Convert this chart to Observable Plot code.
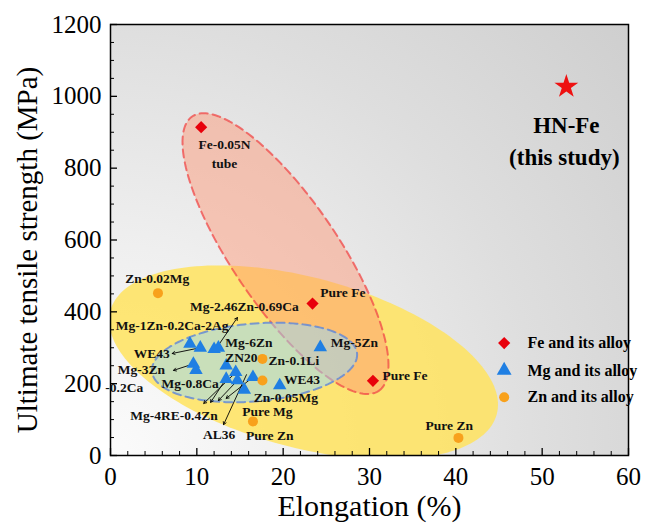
<!DOCTYPE html>
<html>
<head>
<meta charset="utf-8">
<script src="https://cdn.jsdelivr.net/npm/d3@7"></script>
<script src="https://cdn.jsdelivr.net/npm/@observablehq/plot@0.6"></script>
<style>
  html, body { margin: 0; padding: 0; background: white; }
</style>
</head>
<body>
<div id="chart"></div>
<script>
// ---------- data ----------
const feNames = ["Fe-0.05N tube", "Pure Fe", "Pure Fe"];
const feElong = [10.5, 23.4, 30.4];
const feUTS = [914, 423, 208];

const mgElong = [9.2, 10.4, 12.0, 12.5, 9.6, 9.9, 13.4, 14.5, 13.4, 14.7, 16.5, 15.5, 19.6, 24.3];
const mgUTS = [311, 300, 296, 300, 255, 238, 250, 232, 213, 209, 218, 183, 195, 301];

const znElong = [5.5, 17.6, 17.6, 16.5, 40.3];
const znUTS = [452, 269, 209, 95, 49];

const studyName = "HN-Fe";
const studyNote = "(this study)";
const studyElong = [52.8];
const studyUTS = [1027];

const xMajor = [0, 10, 20, 30, 40, 50, 60];
const xMinor = d3.range(0, 61, 2).filter(v => v % 10 !== 0);
const yMajor = [0, 200, 400, 600, 800, 1000, 1200];
const yMinor = d3.range(0, 1201, 50).filter(v => v % 200 !== 0);

// annotation labels (data units)
const labelText = ["Fe-0.05N\ntube", "Pure Fe", "Pure Fe", "Mg-5Zn", "Pure Zn", "Zn-0.02Mg",
  "Mg-2.46Zn-0.69Ca", "Mg-1Zn-0.2Ca-2Ag", "WE43", "Mg-3Zn", "-0.2Ca", "Mg-0.8Ca",
  "Mg-4RE-0.4Zn", "AL36", "Pure Zn", "Pure Mg", "Zn-0.05Mg", "WE43", "Zn-0.1Li", "ZN20", "Mg-6Zn"];
const labelX = [13.2, 24.3, 31.5, 25.5, 36.5, 1.7, 9.2, 0.6, 2.7, 0.85, -0.6, 5.9, 2.3, 10.7, 15.7, 15.25, 16.6, 20.1, 18.3, 13.3, 13.3];
const labelY = [845, 454, 223, 313, 84, 492, 415, 362, 283, 239, 189, 200, 111, 58, 56, 121, 160, 211, 265, 272, 315];
const labelAnchor = ["middle", "start", "start", "start", "start", "start", "start", "start", "start", "start", "start", "start",
  "start", "start", "start", "start", "start", "start", "start", "start", "start"];

// arrows (data units)
const arrowX1 = [10.4, 9.6, 12.3, 14.5, 13.4, 14.7, 16.5, 15.75];
const arrowY1 = [300, 255, 300, 231, 214, 209, 218, 225];
const arrowX2 = [7.15, 7.3, 14.7, 10.8, 11.6, 12.5, 13.4, 13.1];
const arrowY2 = [284, 237, 384, 145, 148, 153, 159, 86];

// ellipses (center + two conjugate semi-axis vectors, data units)
const ellipseNames = ["Zn", "Fe", "Mg"];
const ellipseCx = [22.36, 20.27, 16.68];
const ellipseCy = [259, 562, 259];
const ellipseAx = [22.38, 10.8, 11.88];
const ellipseAy = [-144.2, -382, 25.1];
const ellipseBx = [-2.55, 5.07, 0.39];
const ellipseBy = [-228.6, 83, -108];

// legend
const legendNames = ["Fe and its alloy", "Mg and its alloy", "Zn and its alloy"];
const legendX = 45.6;
const legendTextX = 48.3;
const legendY = [313, 237, 162];

// ---------- build ----------
const fe = feNames.map((n, i) => ({name: n, x: feElong[i], y: feUTS[i]}));
const mg = mgElong.map((v, i) => ({x: v, y: mgUTS[i]}));
const zn = znElong.map((v, i) => ({x: v, y: znUTS[i]}));
const study = studyElong.map((v, i) => ({x: v, y: studyUTS[i]}));
const labels = labelText.map((t, i) => ({text: t, x: labelX[i], y: labelY[i], anchor: labelAnchor[i]}));
const arrows = arrowX1.map((v, i) => ({x1: v, y1: arrowY1[i], x2: arrowX2[i], y2: arrowY2[i]}));
const legend = legendNames.map((n, i) => ({name: n, x: legendX, tx: legendTextX, y: legendY[i]}));

function ellipse(i, n = 180) {
  return d3.range(n).map(k => {
    const t = 2 * Math.PI * k / n;
    return {
      x: ellipseCx[i] + ellipseAx[i] * Math.cos(t) + ellipseBx[i] * Math.sin(t),
      y: ellipseCy[i] + ellipseAy[i] * Math.cos(t) + ellipseBy[i] * Math.sin(t)
    };
  });
}
const ellZn = ellipse(0), ellFe = ellipse(1), ellMg = ellipse(2);

const serif = "'Liberation Serif', 'Times New Roman', serif";

const background = (index, scales) => {
  const x0 = scales.x(0), x1 = scales.x(60), yT = scales.y(1200), yB = scales.y(0);
  const g = d3.create("svg:g");
  const grad = g.append("defs").append("radialGradient")
    .attr("id", "bgGrad").attr("gradientUnits", "userSpaceOnUse")
    .attr("cx", x0).attr("cy", yB).attr("r", 700);
  [[0, "#fbfbfb"], [0.3, "#efefef"], [0.62, "#dedede"], [1, "#cdcdcd"]].forEach(([o, c]) =>
    grad.append("stop").attr("offset", o).attr("stop-color", c));
  g.append("rect").attr("x", x0).attr("y", yT).attr("width", x1 - x0).attr("height", yB - yT)
    .attr("fill", "url(#bgGrad)");
  return g.node();
};

const innerH = 524 - 24 - 69;
const innerW = 661 - 110 - 33;

const chart = Plot.plot({
  width: 661,
  height: 524,
  marginLeft: 110,
  marginRight: 33,
  marginTop: 24,
  marginBottom: 69,
  style: {fontFamily: serif, background: "white", color: "black"},
  x: {domain: [0, 60]},
  y: {domain: [0, 1200]},
  marks: [
    background,
    // ellipses
    Plot.line(ellZn, {x: "x", y: "y", curve: "linear-closed", fill: "#ffe35e", fillOpacity: 0.85, stroke: "none", clip: true}),
    Plot.line(ellFe, {x: "x", y: "y", curve: "linear-closed", fill: "#ff936f", fillOpacity: 0.45, stroke: "none", clip: true}),
    Plot.line(ellFe, {x: "x", y: "y", curve: "linear-closed", fill: "none", stroke: "#f04848", strokeOpacity: 0.75, strokeWidth: 2, strokeDasharray: "8,5", clip: true}),
    Plot.line(ellMg, {x: "x", y: "y", curve: "linear-closed", fill: "#93d8ff", fillOpacity: 0.5, stroke: "none", clip: true}),
    Plot.line(ellMg, {x: "x", y: "y", curve: "linear-closed", fill: "none", stroke: "#5f86d8", strokeOpacity: 0.8, strokeWidth: 2, strokeDasharray: "8,5", clip: true}),
    // ticks (inward)
    Plot.ruleX(xMajor, {x: d => d, insetTop: innerH - 7, stroke: "black", strokeWidth: 1.3}),
    Plot.ruleX(xMinor, {x: d => d, insetTop: innerH - 4, stroke: "black", strokeWidth: 1}),
    Plot.ruleY(yMajor, {y: d => d, insetRight: innerW - 7, stroke: "black", strokeWidth: 1.3}),
    Plot.ruleY(yMinor, {y: d => d, insetRight: innerW - 4, stroke: "black", strokeWidth: 1}),
    Plot.frame({stroke: "black", strokeWidth: 1.5}),
    Plot.axisX({ticks: xMajor, tickSize: 0, tickPadding: 12, fontSize: 25, label: null, tickFormat: d3.format("d"), fontFamily: serif}),
    Plot.axisY({ticks: yMajor, tickSize: 0, tickPadding: 9, fontSize: 25, label: null, tickFormat: d3.format("d"), fontFamily: serif}),
    Plot.text(["Elongation (%)"], {frameAnchor: "bottom", dy: 51, lineAnchor: "middle", textAnchor: "middle", fontSize: 30, fontFamily: serif}),
    Plot.text(["Ultimate tensile strength (MPa)"], {frameAnchor: "left", dx: -83, dy: 10, rotate: -90, lineAnchor: "middle", textAnchor: "middle", fontSize: 29, fontFamily: serif}),
    // arrows
    Plot.arrow(arrows, {x1: "x1", y1: "y1", x2: "x2", y2: "y2", stroke: "black", strokeWidth: 0.9, headLength: 5}),
    // points
    Plot.dot(fe, {x: "x", y: "y", symbol: "diamond2", r: 5.5, fill: "#e8000b", stroke: "none"}),
    Plot.dot(mg, {x: "x", y: "y", symbol: "triangle", r: 5, fill: "#1f7fe3", stroke: "none"}),
    Plot.dot(zn, {x: "x", y: "y", symbol: "circle", r: 5, fill: "#f8a11c", stroke: "none"}),
    Plot.dot(study, {x: "x", y: "y", symbol: "star", r: 7.5, fill: "#ee1111", stroke: "none"}),
    // labels
    Plot.text(labels.filter(d => d.anchor === "start"), {x: "x", y: "y", text: "text", textAnchor: "start", fontSize: 13.5, fontWeight: "bold", fill: "#111", fontFamily: serif}),
    Plot.text(labels.filter(d => d.anchor === "middle"), {x: "x", y: "y", text: "text", textAnchor: "middle", lineHeight: 1.43, fontSize: 13.5, fontWeight: "bold", fill: "#111", fontFamily: serif}),
    Plot.text(study, {x: "x", y: "y", text: () => studyName, dy: 39, fontSize: 23, fontWeight: "bold", fontFamily: serif}),
    Plot.text(study, {x: "x", y: "y", text: () => studyNote, dy: 71, dx: -2, fontSize: 23, fontWeight: "bold", fontFamily: serif}),
    // legend
    Plot.dot(legend.slice(0, 1), {x: "x", y: "y", symbol: "diamond2", r: 5.5, fill: "#e8000b"}),
    Plot.dot(legend.slice(1, 2), {x: "x", y: "y", symbol: "triangle", r: 5.5, fill: "#1f7fe3"}),
    Plot.dot(legend.slice(2, 3), {x: "x", y: "y", symbol: "circle", r: 5, fill: "#f8a11c"}),
    Plot.text(legend, {x: "tx", y: "y", text: "name", textAnchor: "start", fontSize: 16, fontWeight: "bold", fontFamily: serif})
  ]
});
document.getElementById("chart").appendChild(chart);
</script>
</body>
</html>
